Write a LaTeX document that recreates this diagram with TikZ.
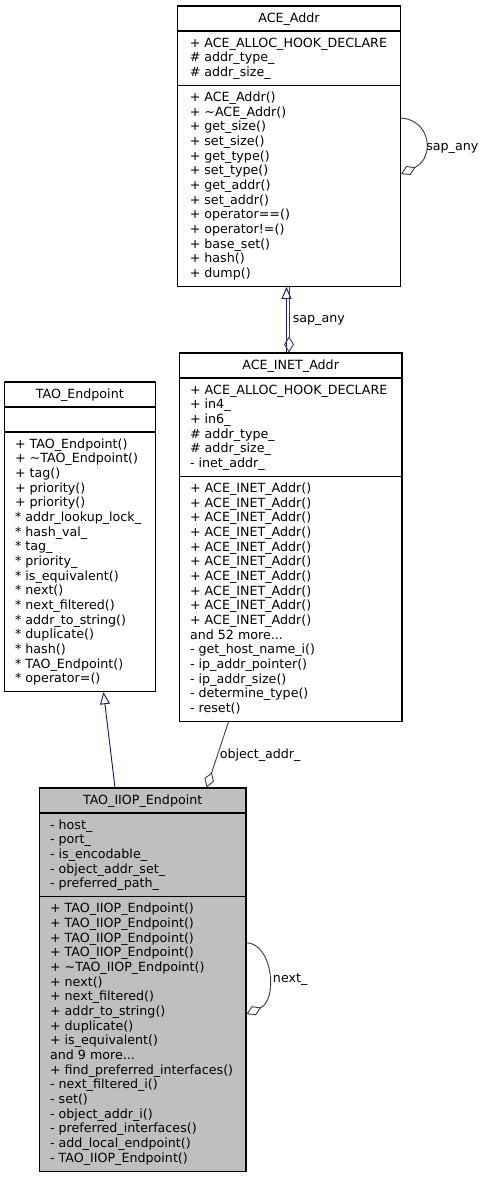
\documentclass[tikz,border=0pt]{standalone}
\usepackage{fontspec}
\setmainfont{DejaVu Sans}
\usetikzlibrary{arrows.meta,fit}
\definecolor{edgegray}{HTML}{404040}
\definecolor{inheritblue}{HTML}{191970}
\definecolor{boxgray}{HTML}{BFBFBF}
\newcommand{\moredots}{...}
\tikzset{
	classbox/.style={draw=black, line width=0.8pt, inner sep=0pt, fill=white},
	sepline/.style={draw=black, line width=0.8pt},
	member/.style={anchor=base west, inner sep=0pt, font=\fontsize{9.5}{11}\selectfont},
	classname/.style={anchor=base, inner sep=0pt, font=\fontsize{9.5}{11}\selectfont},
	edgelabel/.style={anchor=base west, inner sep=0pt, font=\fontsize{9.5}{11}\selectfont},
	inherit/.style={draw=inheritblue, line width=0.7pt, -{Triangle[open,length=9pt,width=7.5pt]}},
	aggr/.style={draw=edgegray, line width=0.7pt, -{Diamond[open,length=12pt,width=7.5pt]}},
}
\begin{document}
\begin{tikzpicture}[x=0.75pt,y=-0.75pt]
	\useasboundingbox (0,0) rectangle (487,1179);

	% ACE_Addr
	\node[classbox, fit={(177.5,6) (400.5,286.4)}] (addr) {};
	\draw[sepline] (addr.west |- 0,31) -- (addr.east |- 0,31);
	\draw[sepline] (addr.west |- 0,85.33) -- (addr.east |- 0,85.33);
	\node[classname] (addr-t) at (addr.north |- 0,22) {ACE\_Addr};
	\foreach \m [count=\i from 0] in {+ ACE\_ALLOC\_HOOK\_DECLARE, \# addr\_type\_, \# addr\_size\_}
		\node[member] (addr-a\i) at (189.5,{47+\i*14.67}) {\m};
	\foreach \m [count=\i from 0] in {+ ACE\_Addr(), + \textasciitilde ACE\_Addr(), + get\_size(), + set\_size(),
		+ get\_type(), + set\_type(), + get\_addr(), + set\_addr(), + operator==(), + operator!=(),
		+ base\_set(), + hash(), + dump()}
		\node[member] (addr-o\i) at (189.5,{101.33+\i*14.67}) {\m};

	% ACE_INET_Addr
	\node[classbox, fit={(179.3,353) (402,721.4)}] (inet) {};
	\draw[sepline] (inet.west |- 0,378) -- (inet.east |- 0,378);
	\draw[sepline] (inet.west |- 0,476.35) -- (inet.east |- 0,476.35);
	\node[classname] (inet-t) at (inet.north |- 0,369) {ACE\_INET\_Addr};
	\foreach \m [count=\i from 0] in {+ ACE\_ALLOC\_HOOK\_DECLARE, + in4\_, + in6\_, \# addr\_type\_,
		\# addr\_size\_, - inet\_addr\_}
		\node[member] (inet-a\i) at (189.8,{394+\i*14.67}) {\m};
	\foreach \m [count=\i from 0] in {+ ACE\_INET\_Addr(), + ACE\_INET\_Addr(), + ACE\_INET\_Addr(),
		+ ACE\_INET\_Addr(), + ACE\_INET\_Addr(), + ACE\_INET\_Addr(), + ACE\_INET\_Addr(),
		+ ACE\_INET\_Addr(), + ACE\_INET\_Addr(), + ACE\_INET\_Addr(), and 52 more\moredots,
		- get\_host\_name\_i(), - ip\_addr\_pointer(), - ip\_addr\_size(), - determine\_type(), - reset()}
		\node[member] (inet-o\i) at (189.8,{492.35+\i*14.67}) {\m};

	% TAO_Endpoint
	\node[classbox, fit={(4.3,382) (155.3,691.7)}] (endpt) {};
	\draw[sepline] (endpt.west |- 0,407) -- (endpt.east |- 0,407);
	\draw[sepline] (endpt.west |- 0,432) -- (endpt.east |- 0,432);
	\node[classname] (endpt-t) at (endpt.north |- 0,398) {TAO\_Endpoint};
	\foreach \m [count=\i from 0] in {+ TAO\_Endpoint(), + \textasciitilde TAO\_Endpoint(), + tag(),
		+ priority(), + priority(), * addr\_lookup\_lock\_, * hash\_val\_, * tag\_, * priority\_,
		* is\_equivalent(), * next(), * next\_filtered(), * addr\_to\_string(), * duplicate(),
		* hash(), * TAO\_Endpoint(), * operator=()}
		\node[member] (endpt-o\i) at (14.8,{448+\i*14.67}) {\m};

	% TAO_IIOP_Endpoint
	\node[classbox, fill=boxgray, fit={(39.3,788) (246,1171.1)}] (iiop) {};
	\draw[sepline] (iiop.west |- 0,813) -- (iiop.east |- 0,813);
	\draw[sepline] (iiop.west |- 0,896.7) -- (iiop.east |- 0,896.7);
	\node[classname] (iiop-t) at (iiop.north |- 0,804) {TAO\_IIOP\_Endpoint};
	\foreach \m [count=\i from 0] in {- host\_, - port\_, - is\_encodable\_, - object\_addr\_set\_,
		- preferred\_path\_}
		\node[member] (iiop-a\i) at (49.8,{829+\i*14.67}) {\m};
	\foreach \m [count=\i from 0] in {+ TAO\_IIOP\_Endpoint(), + TAO\_IIOP\_Endpoint(),
		+ TAO\_IIOP\_Endpoint(), + TAO\_IIOP\_Endpoint(), + \textasciitilde TAO\_IIOP\_Endpoint(),
		+ next(), + next\_filtered(), + addr\_to\_string(), + duplicate(), + is\_equivalent(),
		and 9 more\moredots, + find\_preferred\_interfaces(), - next\_filtered\_i(), - set(),
		- object\_addr\_i(), - preferred\_interfaces(), - add\_local\_endpoint(), - TAO\_IIOP\_Endpoint()}
		\node[member] (iiop-o\i) at (49.8,{912.7+\i*14.67}) {\m};

	% relations
	\draw[inherit] (inet.north -| 286.5,0) -- (addr.south -| 286.5,0);
	\draw[aggr] (addr.south -| 289,0) -- (inet.north -| 289,0);
	\draw[aggr] (addr.east |- 0,118) .. controls (431,120) and (435,158) .. (addr.east |- 0,174);
	\draw[inherit] (iiop.north -| 115,0) -- (endpt.south -| 103.5,0);
	\draw[aggr] (inet.south -| 228.5,0) -- (iiop.north -| 206.7,0);
	\draw[aggr] (iiop.east |- 0,942.7) .. controls (273,944) and (278,1000) .. (iiop.east |- 0,1014);

	\node[edgelabel] (sap-self) at (426,150) {sap\_any};
	\node[edgelabel] (sap-inet) at (292.5,322) {sap\_any};
	\node[edgelabel] (objaddr) at (219.5,758) {object\_addr\_};
	\node[edgelabel] (next-self) at (272.7,982) {next\_};

\end{tikzpicture}
\end{document}
